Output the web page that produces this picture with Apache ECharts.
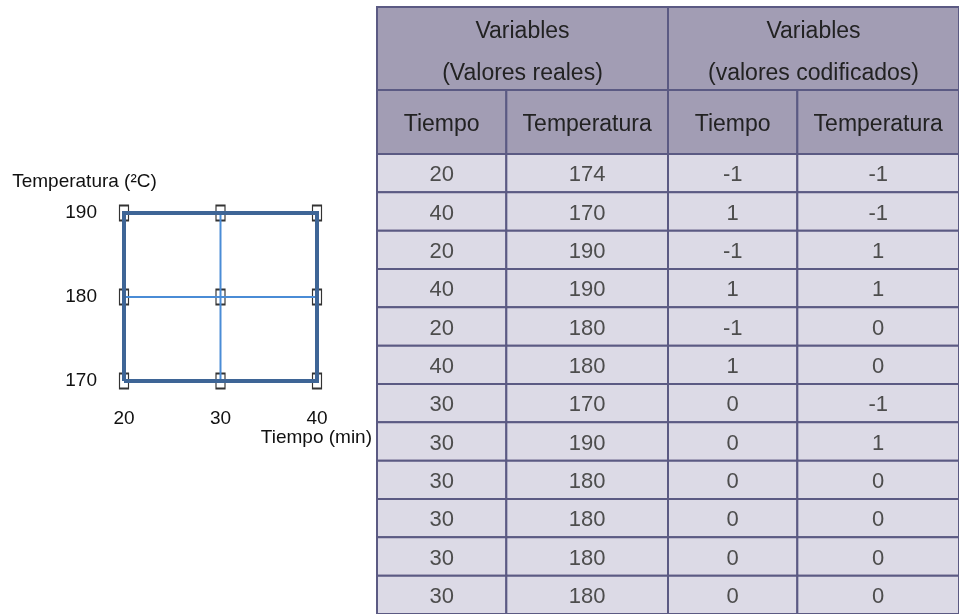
<!DOCTYPE html>
<html>
<head>
<meta charset="utf-8">
<title>Diseño factorial 3x3</title>
<script src="https://cdn.jsdelivr.net/npm/echarts@6/dist/echarts.min.js"></script>
<style>
html, body { margin: 0; padding: 0; background: #fff; }
#chart { width: 959px; height: 614px; }
</style>
</head>
<body>
<div id="chart"></div>
<script>
// --- tabla ---
var groupHeaders = ['Variables\n(Valores reales)', 'Variables\n(valores codificados)'];
var columnHeaders = ['Tiempo', 'Temperatura', 'Tiempo', 'Temperatura'];
var tiempoReal = [20, 40, 20, 40, 20, 40, 30, 30, 30, 30, 30, 30];
var temperaturaReal = [174, 170, 190, 190, 180, 180, 170, 190, 180, 180, 180, 180];
var tiempoCod = [-1, 1, -1, 1, -1, 1, 0, 0, 0, 0, 0, 0];
var temperaturaCod = [-1, -1, 1, 1, 0, 0, -1, 1, 0, 0, 0, 0];

// --- diagrama del diseño ---
var bordeTiempo = [20, 40, 40, 20, 20];
var bordeTemp = [170, 170, 190, 190, 170];
var cruzVTiempo = [30, 30];
var cruzVTemp = [170, 190];
var cruzHTiempo = [20, 40];
var cruzHTemp = [180, 180];
var puntosTiempo = [20, 30, 40, 20, 30, 40, 20, 30, 40];
var puntosTemp = [190, 190, 190, 180, 180, 180, 170, 170, 170];

var FONT = '"Liberation Sans", Arial, Helvetica, sans-serif';

function zip(a, b) {
  return a.map(function (v, i) { return [v, b[i]]; });
}

// anchos relativos de columna (131 / 163 px aprox.)
var colEdges = [0, 4, 9, 13, 18];
var groupEdges = [0, 9, 18];

var columns = [tiempoReal, temperaturaReal, tiempoCod, temperaturaCod];

var head1Cells = [], head1Text = [];
groupHeaders.forEach(function (t, g) {
  head1Cells.push([groupEdges[g], groupEdges[g + 1], 0]);
  head1Text.push(t);
});
var head2Cells = [], head2Text = [];
columnHeaders.forEach(function (t, c) {
  head2Cells.push([colEdges[c], colEdges[c + 1], 0]);
  head2Text.push(t);
});
var bodyCells = [], bodyText = [], rowIds = [];
tiempoReal.forEach(function (v, r) {
  rowIds.push(String(r));
  columns.forEach(function (col, c) {
    bodyCells.push([colEdges[c], colEdges[c + 1], r]);
    bodyText.push(String(col[r]));
  });
});

function cellSeries(idx, cells, texts, fill, textStyle, dy) {
  return {
    type: 'custom',
    xAxisIndex: idx,
    yAxisIndex: idx,
    silent: true,
    encode: { x: [0, 1], y: 2 },
    data: cells,
    renderItem: function (params, api) {
      var r = api.value(2);
      var a = api.coord([api.value(0), r]);
      var b = api.coord([api.value(1), r]);
      var h = api.size([0, 1])[1];
      return {
        type: 'rect',
        shape: { x: a[0], y: a[1] - h / 2, width: b[0] - a[0], height: h },
        style: { fill: fill, stroke: '#5b5a83', lineWidth: 2 },
        textContent: {
          style: Object.assign({ text: texts[params.dataIndex] }, textStyle)
        },
        textConfig: { position: 'inside', offset: [0, dy] }
      };
    }
  };
}

function hiddenX(idx) {
  return { type: 'value', gridIndex: idx, min: 0, max: 18, show: false };
}
function hiddenY(idx, data, inverse) {
  return { type: 'category', gridIndex: idx, data: data, inverse: !!inverse, show: false };
}

var head1Style = { fontFamily: FONT, fontSize: 23, fill: '#222', lineHeight: 42 };
var head2Style = { fontFamily: FONT, fontSize: 23, fill: '#222' };
var bodyStyle = { fontFamily: FONT, fontSize: 22, fill: '#4d4d4d' };

var chart = echarts.init(document.getElementById('chart'));
chart.setOption({
  animation: false,
  backgroundColor: '#fff',
  textStyle: { fontFamily: FONT },
  grid: [
    { left: 124, top: 213, width: 193, height: 168 },
    { left: 377, top: 7, width: 588, height: 83 },
    { left: 377, top: 90, width: 588, height: 64 },
    { left: 377, top: 154, width: 588, height: 461 }
  ],
  xAxis: [
    {
      type: 'value',
      gridIndex: 0,
      min: 20,
      max: 40,
      interval: 10,
      name: 'Tiempo (min)',
      nameLocation: 'end',
      nameGap: 55,
      nameTextStyle: {
        fontSize: 19, color: '#111', align: 'right', verticalAlign: 'top',
        padding: [47, 0, 0, 0]
      },
      axisLine: { show: false },
      axisTick: { show: false },
      splitLine: { show: false },
      axisLabel: { fontSize: 19, color: '#111', margin: 28 }
    },
    hiddenX(1), hiddenX(2), hiddenX(3)
  ],
  yAxis: [
    {
      type: 'value',
      gridIndex: 0,
      min: 170,
      max: 190,
      interval: 10,
      name: 'Temperatura (²C)',
      nameLocation: 'end',
      nameGap: 31,
      nameTextStyle: {
        fontSize: 19, color: '#111', align: 'center', verticalAlign: 'middle',
        padding: [0, 79, 0, 0]
      },
      axisLine: { show: false },
      axisTick: { show: false },
      splitLine: { show: false },
      axisLabel: { fontSize: 19, color: '#111', margin: 27 }
    },
    hiddenY(1, ['0']), hiddenY(2, ['0']), hiddenY(3, rowIds, true)
  ],
  series: [
    {
      type: 'line', xAxisIndex: 0, yAxisIndex: 0, silent: true,
      data: zip(cruzVTiempo, cruzVTemp), symbol: 'none',
      lineStyle: { color: '#4a8cd6', width: 2 }
    },
    {
      type: 'line', xAxisIndex: 0, yAxisIndex: 0, silent: true,
      data: zip(cruzHTiempo, cruzHTemp), symbol: 'none',
      lineStyle: { color: '#4a8cd6', width: 2 }
    },
    {
      type: 'line', xAxisIndex: 0, yAxisIndex: 0, silent: true,
      data: zip(bordeTiempo, bordeTemp), symbol: 'none',
      lineStyle: { color: '#3e6596', width: 4, join: 'miter' }
    },
    {
      type: 'scatter', xAxisIndex: 0, yAxisIndex: 0, silent: true,
      data: zip(puntosTiempo, puntosTemp),
      symbol: 'rect', symbolSize: [9, 15],
      itemStyle: { color: 'rgba(255,255,255,0.55)', borderColor: '#000', borderWidth: 1.5 }
    },
    cellSeries(1, head1Cells, head1Text, '#a29db4', head1Style, 4),
    cellSeries(2, head2Cells, head2Text, '#a29db4', head2Style, 3),
    cellSeries(3, bodyCells, bodyText, '#dcdae6', bodyStyle, 2)
  ]
});
</script>
</body>
</html>
